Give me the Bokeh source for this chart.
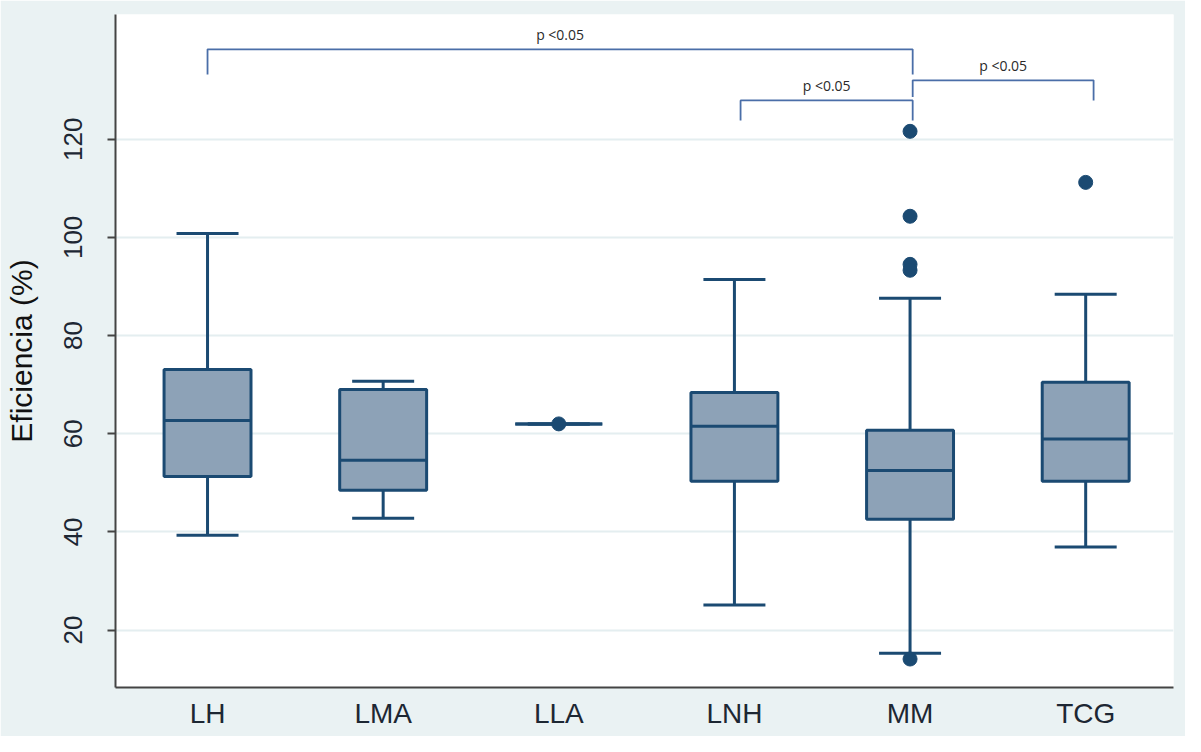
from bokeh.plotting import figure
from bokeh.models import FixedTicker, Range1d, ColumnDataSource
from bokeh.embed import file_html
from bokeh.resources import INLINE
from bokeh.core.properties import value

categories = ["LH", "LMA", "LLA", "LNH", "MM", "TCG"]
lower = [39.3, 42.8, 62.0, 25.1, 15.3, 36.9]
q1 = [51.3, 48.5, 62.0, 50.3, 42.6, 50.3]
median = [62.7, 54.6, 62.0, 61.5, 52.5, 58.9]
q3 = [73.1, 69.0, 62.0, 68.4, 60.7, 70.5]
upper = [100.8, 70.7, 62.0, 91.4, 87.6, 88.4]

outlier_cat = ["LLA", "MM", "MM", "MM", "MM", "MM", "TCG"]
outlier_val = [62.0, 121.6, 104.3, 94.5, 93.3, 14.1, 111.2]

br_from = ["LH", "LNH", "MM"]
br_to = ["MM", "MM", "TCG"]
br_top = [138.3, 127.9, 132.0]
br_left_end = [133.2, 123.8, 128.6]
br_right_end = [133.2, 123.8, 127.9]
br_label = ["p <0.05", "p <0.05", "p <0.05"]

y_ticks = [20, 40, 60, 80, 100, 120]

pos = {c: i + 1 for i, c in enumerate(categories)}
nudge = {"LH": 0.0, "LMA": 0.0, "LLA": 0.0, "LNH": 0.035, "MM": 0.015, "TCG": 0.045}

BOX_W = 0.495
CAP_W = 0.353
FILL = "#8da2b7"
LINE = "#1b4a72"
BRK = "#4a6ea8"
TXT = "#1d2733"

p = figure(width=1185, height=736, output_backend="svg", toolbar_location=None,
           x_range=Range1d(0.476, 6.5), y_range=Range1d(8.3, 145.4))
p.min_border_left = 115
p.min_border_right = 12
p.min_border_top = 14
p.min_border_bottom = 49
p.border_fill_color = "#eaf2f3"
p.background_fill_color = "white"
p.outline_line_color = None

xs = [pos[c] for c in categories]
src = ColumnDataSource(dict(x=xs, lower=lower, q1=q1, median=median, q3=q3, upper=upper,
                            xl=[x - BOX_W / 2 for x in xs], xr=[x + BOX_W / 2 for x in xs],
                            cl=[x - CAP_W / 2 for x in xs], cr=[x + CAP_W / 2 for x in xs]))

# whiskers
p.segment(x0="x", y0="q3", x1="x", y1="upper", source=src, line_color=LINE, line_width=3)
p.segment(x0="x", y0="q1", x1="x", y1="lower", source=src, line_color=LINE, line_width=3)
p.segment(x0="cl", y0="upper", x1="cr", y1="upper", source=src, line_color=LINE, line_width=3)
p.segment(x0="cl", y0="lower", x1="cr", y1="lower", source=src, line_color=LINE, line_width=3)
# boxes
p.vbar(x="x", bottom="q1", top="q3", width=BOX_W, source=src,
       fill_color=FILL, line_color=LINE, line_width=3)
p.segment(x0="xl", y0="median", x1="xr", y1="median", source=src, line_color=LINE, line_width=3)

# outliers
p.scatter(x=[pos[c] for c in outlier_cat], y=outlier_val, size=14,
          fill_color=LINE, line_color=LINE)

# brackets
for a, b, top, le, re, lab in zip(br_from, br_to, br_top, br_left_end, br_right_end, br_label):
    xa = pos[a] + nudge[a]
    xb = pos[b] + nudge[b]
    p.line(x=[xa, xa, xb, xb], y=[le, top, top, re], line_color=BRK, line_width=1.8)
    p.text(x=[(xa + xb) / 2], y=[top], text=[lab], text_align="center",
           text_baseline="bottom", y_offset=-5, text_font_size="14px",
           text_font=value("Open Sans"), text_color="#2a2a2a")

# axes
p.xaxis.ticker = FixedTicker(ticks=xs)
p.xaxis.major_label_overrides = {pos[c]: c for c in categories}
p.xaxis.major_tick_line_color = None
p.xaxis.minor_tick_line_color = None
p.xaxis.axis_line_color = "#444444"
p.xaxis.axis_line_width = 2
p.xaxis.major_label_text_font = "Liberation Sans"
p.xaxis.major_label_text_font_size = "28px"
p.xaxis.major_label_text_color = TXT
p.xaxis.major_label_standoff = 4

p.yaxis.ticker = FixedTicker(ticks=y_ticks)
p.yaxis.minor_tick_line_color = None
p.yaxis.major_tick_out = 8
p.yaxis.major_tick_in = 0
p.yaxis.major_tick_line_color = "#444444"
p.yaxis.major_tick_line_width = 2
p.yaxis.axis_line_color = "#444444"
p.yaxis.axis_line_width = 2
p.yaxis.major_label_orientation = "vertical"
p.yaxis.major_label_text_font = "Liberation Sans"
p.yaxis.major_label_text_font_size = "26px"
p.yaxis.major_label_text_color = TXT
p.yaxis.major_label_standoff = 25
p.yaxis.axis_label = "Eficiencia (%)"
p.yaxis.axis_label_text_font = "Liberation Sans"
p.yaxis.axis_label_text_font_size = "30px"
p.yaxis.axis_label_text_font_style = "normal"
p.yaxis.axis_label_text_color = "#111111"
p.yaxis.axis_label_standoff = 24

p.xgrid.grid_line_color = None
p.ygrid.grid_line_color = "#e4eef0"
p.ygrid.grid_line_width = 2

open("out.html", "w").write(file_html(p, INLINE))
